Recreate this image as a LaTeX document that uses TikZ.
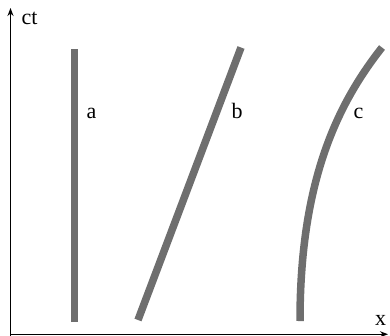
\documentclass[tikz,border=0pt]{standalone}
\usepackage{fontspec}
\setmainfont{Liberation Serif}
\usetikzlibrary{arrows.meta}
\definecolor{wline}{HTML}{6E6E6E}
\begin{document}
\begin{tikzpicture}[x=1pt,y=1pt,
  worldline/.style={draw=wline,line width=7.5pt,line cap=butt},
  axis/.style={draw=black,line width=1.5pt,-{Stealth[length=8pt,width=6pt]}},
  lbl/.style={inner sep=0pt,anchor=base,font=\fontsize{22}{26}\selectfont}]
\useasboundingbox (0,0) rectangle (390,335);
% axes
\coordinate (O) at (10.5,0.75);
\coordinate (ytop) at (10.5,327);
\coordinate (xend) at (388,0.75);
\draw[axis] (10.5,-5) -- (ytop);
\draw[axis] (O) -- (xend);
\node[lbl] (ct) at (29.5,310) {ct};
\node[lbl] (xl) at (380.5,9.3) {x};
% world lines
\coordinate (a0) at (74.5,13);
\coordinate (a1) at (74.5,286);
\coordinate (b0) at (138,15);
\coordinate (b1) at (241,287.5);
\coordinate (c0) at (300,14);
\coordinate (c1) at (382,287.5);
\draw[worldline] (a0) -- (a1);
\draw[worldline] (b0) -- (b1);
\draw[worldline] (c0) .. controls (300,150) and (335,228) .. (c1);
\node[lbl] (la) at (91.5,216.5) {a};
\node[lbl] (lb) at (237,216.5) {b};
\node[lbl] (lc) at (358.5,216.5) {c};
\end{tikzpicture}
\end{document}
